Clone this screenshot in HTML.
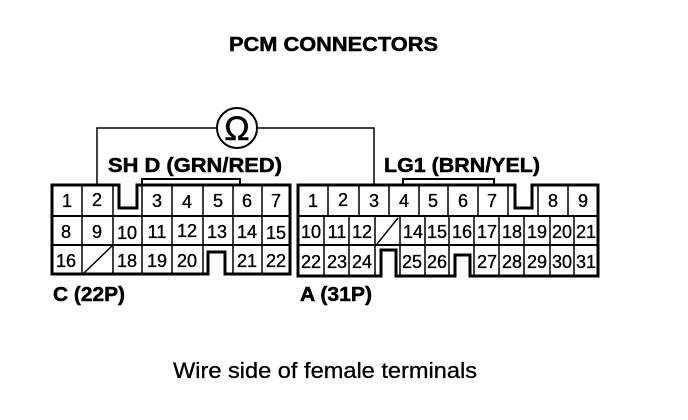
<!DOCTYPE html>
<html><head><meta charset="utf-8"><style>
html,body{margin:0;padding:0;background:#fff}
svg{display:block}
text{font-family:"Liberation Sans",sans-serif;fill:#000}
.n{font-size:18px;text-anchor:middle;stroke:#000;stroke-width:.35px}
.b{font-size:20px;font-weight:bold;stroke:#000;stroke-width:.5px}
</style></head><body>
<svg width="688" height="420" viewBox="0 0 688 420" xmlns="http://www.w3.org/2000/svg">
<text class="b" x="229" y="51" textLength="209" lengthAdjust="spacingAndGlyphs">PCM CONNECTORS</text>
<text class="b" x="108" y="172" textLength="174" lengthAdjust="spacingAndGlyphs">SH D (GRN/RED)</text>
<text class="b" x="384" y="172" textLength="156" lengthAdjust="spacingAndGlyphs">LG1 (BRN/YEL)</text>
<text class="b" x="53" y="301" textLength="72" lengthAdjust="spacingAndGlyphs">C (22P)</text>
<text class="b" x="300" y="301" textLength="72" lengthAdjust="spacingAndGlyphs">A (31P)</text>
<text x="173" y="378" font-size="22" textLength="304" lengthAdjust="spacingAndGlyphs" style="stroke:#000;stroke-width:.3px">Wire side of female terminals</text>

<g fill="none" stroke="#000">
<path stroke-width="1.5" d="M97 185V128H217M257 128H374V185"/>
<circle cx="237" cy="128" r="20" stroke-width="2"/>
<path stroke-width="2" d="M142 185V179H240V185M403 185V179H494V185"/>

<!-- left connector -->
<path stroke-width="3" d="M52 185H119V208H137V185H290V274H225V252H208V274H52Z"/>
<path stroke-width="2" d="M52 216H290M52 245H290"/>
<path stroke-width="1.5" d="M82 185V274M113 185V274M142 185V274M172 185V274M203 185V274M233 185V274M262 185V274"/>
<path stroke-width="1.5" d="M84 273L112 246"/>

<!-- right connector -->
<path stroke-width="3" d="M298 185H515V208H532V185H598V276H470V255H455V276H396V250H381V276H298Z"/>
<path stroke-width="2" d="M298 216H598M298 245H598"/>
<path stroke-width="1.5" d="M328 185V216M359 185V216M389 185V216M419 185V216M448 185V216M478 185V216M508 185V216M538 185V216M568 185V216"/>
<path stroke-width="1.5" d="M324 216V276M349 216V276M375 216V276M400 216V276M425 216V276M449 216V276M474 216V276M499 216V276M524 216V276M550 216V276M574 216V276"/>
<path stroke-width="1.5" d="M377 244L398 218"/>
</g>

<!-- Ohm symbol -->
<text x="237" y="140" font-size="34" text-anchor="middle" style="stroke:#000;stroke-width:.5px">Ω</text>

<g class="n">
<text class="n" x="67" y="207">1</text><text class="n" x="97" y="206">2</text><text class="n" x="157" y="207">3</text><text class="n" x="187" y="208">4</text><text class="n" x="218" y="207">5</text><text class="n" x="247" y="207">6</text><text class="n" x="276" y="207">7</text>
<text class="n" x="66" y="238">8</text><text class="n" x="97" y="238">9</text><text class="n" x="127" y="239">10</text><text class="n" x="157" y="238">11</text><text class="n" x="187" y="237">12</text><text class="n" x="217" y="238">13</text><text class="n" x="247" y="238">14</text><text class="n" x="276" y="239">15</text>
<text class="n" x="66" y="267">16</text><text class="n" x="127" y="267">18</text><text class="n" x="157" y="267">19</text><text class="n" x="187" y="267">20</text><text class="n" x="247" y="267">21</text><text class="n" x="276" y="267">22</text>

<text class="n" x="313" y="207">1</text><text class="n" x="343" y="206">2</text><text class="n" x="374" y="207">3</text><text class="n" x="404" y="207">4</text><text class="n" x="433" y="207">5</text><text class="n" x="463" y="207">6</text><text class="n" x="492" y="207">7</text><text class="n" x="553" y="207">8</text><text class="n" x="583" y="207">9</text>
<text class="n" x="311" y="238">10</text><text class="n" x="337" y="238">11</text><text class="n" x="362" y="238">12</text><text class="n" x="413" y="238">14</text><text class="n" x="437" y="238">15</text><text class="n" x="462" y="238">16</text><text class="n" x="487" y="238">17</text><text class="n" x="512" y="238">18</text><text class="n" x="537" y="238">19</text><text class="n" x="562" y="238">20</text><text class="n" x="586" y="238">21</text>
<text class="n" x="311" y="268">22</text><text class="n" x="337" y="268">23</text><text class="n" x="362" y="268">24</text><text class="n" x="412" y="268">25</text><text class="n" x="437" y="268">26</text><text class="n" x="487" y="268">27</text><text class="n" x="512" y="268">28</text><text class="n" x="537" y="268">29</text><text class="n" x="562" y="268">30</text><text class="n" x="586" y="268">31</text>
</g>
</svg>
</body></html>
